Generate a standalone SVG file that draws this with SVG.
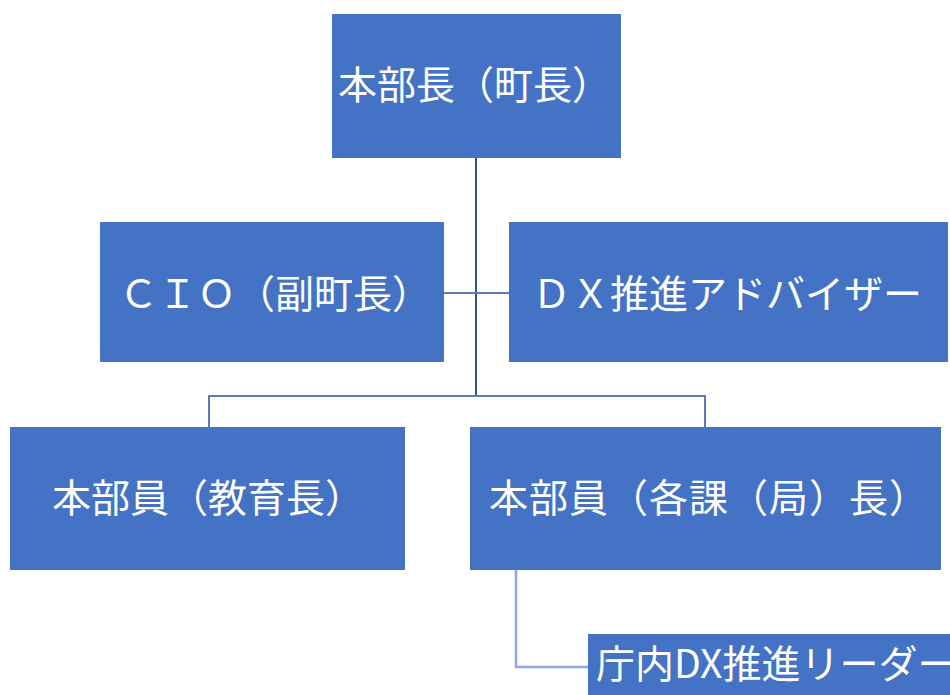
<svg xmlns="http://www.w3.org/2000/svg" width="950" height="695" viewBox="0 0 950 695">
<style>
.box{fill:#4472C4;}
.lbl{fill:#ffffff;font-family:"Noto Sans CJK JP","Noto Sans",sans-serif;font-size:39px;}
.c1{stroke:#2F5597;stroke-width:2;fill:none;}
.c2{stroke:#5B7BBA;stroke-width:2;fill:none;}
.c3{stroke:#8EA9DB;stroke-width:2.5;fill:none;}
</style>
<rect width="950" height="695" fill="#ffffff"/>
<g id="connectors">
<path class="c1" d="M476 157 V396"/>
<path class="c2" d="M443 293 H509"/>
<path class="c2" d="M209 427 V396 H705 V427"/>
<path class="c3" d="M516 570 V667 H588"/>
</g>
<g id="n-honbucho">
<rect class="box" x="332" y="14" width="289" height="144"/>
<text class="lbl" x="338" y="99">本部長（町長）</text>
</g>
<g id="n-cio">
<rect class="box" x="100" y="222" width="344" height="140"/>
<text class="lbl" x="119" y="308">ＣＩＯ（副町長）</text>
</g>
<g id="n-dx">
<rect class="box" x="509" y="222" width="439" height="140"/>
<text class="lbl" x="532" y="308">ＤＸ推進アドバイザー</text>
</g>
<g id="n-kyoiku">
<rect class="box" x="10" y="427" width="395" height="143"/>
<text class="lbl" x="52" y="512">本部員（教育長）</text>
</g>
<g id="n-kakuka">
<rect class="box" x="470" y="427" width="471" height="143"/>
<text class="lbl" x="489" y="512" letter-spacing="1">本部員（各課（局）長）</text>
</g>
<g id="n-leader">
<rect class="box" x="588" y="634" width="362" height="61"/>
<text class="lbl" x="596" y="678" font-size="35">庁内DX推進リーダー</text>
</g>
</svg>
